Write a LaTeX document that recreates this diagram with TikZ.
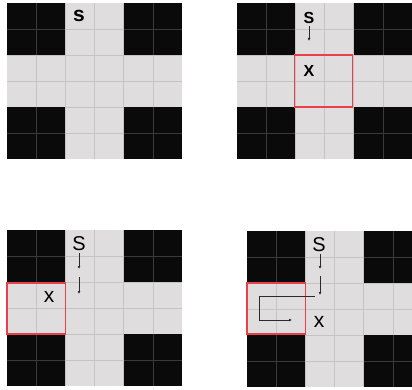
\documentclass[tikz,border=0pt]{standalone}
\usepackage{fontspec}
\newfontfamily\hv{Liberation Sans}
\usetikzlibrary{arrows.meta}
\definecolor{lightc}{HTML}{DFDDDD}
\definecolor{darkc}{HTML}{0A0A0A}
\definecolor{gridlc}{HTML}{C4C4C4}
\definecolor{griddc}{HTML}{3A3A3A}
\definecolor{redc}{HTML}{E8404A}
\definecolor{arrc}{HTML}{2A2A2A}
\def\cw{29.2}
\def\ch{26}
\tikzset{
  gridl/.style={draw=gridlc,line width=0.8pt},
  gridd/.style={draw=griddc,line width=0.8pt},
  redbox/.style={draw=redc,line width=1.3pt},
  walk/.style={draw=arrc,line width=0.9pt,-{Latex[length=3pt,width=3pt]}},
  lbl/.style={inner sep=0pt,text=black},
}
\newcommand\gridpanel[2]{%
  \begin{scope}[shift={(#1,#2)}]
    \fill[lightc] (0,0) rectangle (6*\cw,6*\ch);
    \foreach \k in {1,...,5} {
      \draw[gridl] (\k*\cw,0) -- (\k*\cw,6*\ch);
      \draw[gridl] (0,\k*\ch) -- (6*\cw,\k*\ch);
    }
    \foreach \i/\j in {0/0,4/0,0/4,4/4} {
      \fill[darkc] (\i*\cw,\j*\ch) rectangle ++(2*\cw,2*\ch);
      \draw[gridd] (\i*\cw+\cw,\j*\ch) -- ++(0,2*\ch);
      \draw[gridd] (\i*\cw,\j*\ch+\ch) -- ++(2*\cw,0);
    }
  \end{scope}}
\begin{document}
\begin{tikzpicture}[x=1pt,y=-1pt]
\useasboundingbox (0,0) rectangle (412,390);
\clip (0,0) rectangle (412,390);
\fill[white] (0,0) rectangle (412,390);
% panels
\gridpanel{7}{3}
\gridpanel{237}{3}
\gridpanel{7}{230}
\gridpanel{247}{231}
% panel 1
\node[lbl,font=\hv\bfseries\fontsize{21}{21}\selectfont] (s1) at (79,16) {s};
% panel 2
\draw[redbox] (294.4,55) rectangle (352.8,107);
\node[lbl,font=\hv\bfseries\fontsize{16}{16}\selectfont] (s2) at (309,18) {S};
\node[lbl,font=\hv\bfseries\fontsize{16}{16}\selectfont] (x2) at (309,71) {X};
\coordinate (a2) at (309,26);
\coordinate (b2) at (309,41);
\draw[walk] (a2) -- (b2);
% panel 3
\draw[redbox] (7,283) rectangle (65.4,334);
\node[lbl,font=\hv\fontsize{20}{20}\selectfont] (s3) at (79,244) {S};
\node[lbl,font=\hv\fontsize{21}{21}\selectfont] (x3) at (49,297) {x};
\coordinate (a3) at (79,253);
\coordinate (b3) at (79,269);
\coordinate (c3) at (79,277);
\coordinate (d3) at (79,294);
\draw[walk] (a3) -- (b3);
\draw[walk] (c3) -- (d3);
% panel 4
\draw[redbox] (247,283) rectangle (305.4,334);
\node[lbl,font=\hv\fontsize{20}{20}\selectfont] (s4) at (319,245) {S};
\node[lbl,font=\hv\fontsize{21}{21}\selectfont] (x4) at (319,322) {x};
\coordinate (a4) at (320,254);
\coordinate (b4) at (320,269);
\coordinate (c4) at (320,276);
\coordinate (d4) at (320,295);
\coordinate (e4) at (315,296);
\coordinate (f4) at (259,296);
\coordinate (g4) at (259,320);
\coordinate (h4) at (292,320);
\draw[walk] (a4) -- (b4);
\draw[walk] (c4) -- (d4);
\draw[walk] (e4) -- (f4) -- (g4) -- (h4);
\end{tikzpicture}
\end{document}
